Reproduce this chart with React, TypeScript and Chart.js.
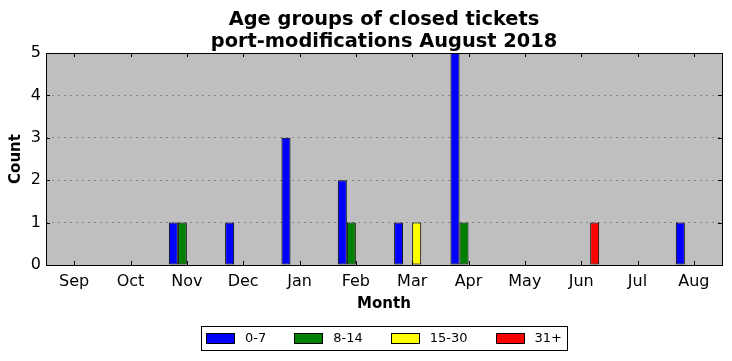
import React, { useEffect, useRef } from "react";
import { Chart, registerables } from "chart.js";

Chart.register(...registerables);

const FONT = "'DejaVu Sans', 'Liberation Sans', sans-serif";

const months = ["Sep", "Oct", "Nov", "Dec", "Jan", "Feb", "Mar", "Apr", "May", "Jun", "Jul", "Aug"];
const age0to7 = [0, 0, 1, 1, 3, 2, 1, 5, 0, 0, 0, 1];
const age8to14 = [0, 0, 1, 0, 0, 1, 0, 1, 0, 0, 0, 0];
const age15to30 = [0, 0, 0, 0, 0, 0, 1, 0, 0, 0, 0, 0];
const age31plus = [0, 0, 0, 0, 0, 0, 0, 0, 0, 1, 0, 0];
const seriesLabels = ["0-7", "8-14", "15-30", "31+"];
const seriesColors = ["#0000ff", "#008000", "#ffff00", "#ff0000"];
const yMin = 0;
const yMax = 5;
const titleLines = ["Age groups of closed tickets", "port-modifications August 2018"];
const xTitle = "Month";
const yTitle = "Count";

const decorPlugin = {
  id: "mplDecor",
  afterLayout(chart: any) {
    const tb = chart.titleBlock;
    if (tb) {
      tb.left = chart.chartArea.left;
      tb.right = chart.chartArea.right;
    }
  },
  beforeDraw(chart: any) {
    const { ctx, chartArea: a } = chart;
    ctx.save();
    ctx.fillStyle = "#ffffff";
    ctx.fillRect(0, 0, chart.width, chart.height);
    ctx.fillStyle = "#bfbfbf";
    ctx.fillRect(a.left, a.top, a.right - a.left, a.bottom - a.top);
    ctx.restore();
  },
  afterDatasetsDraw(chart: any) {
    const { ctx, chartArea: a } = chart;
    const xs = chart.scales.x;
    const ys = chart.scales.y;
    const tl = 4;
    ctx.save();
    ctx.strokeStyle = "#000";
    ctx.lineWidth = 1;
    ctx.beginPath();
    xs.ticks.forEach((_: any, i: number) => {
      const px = Math.round(xs.getPixelForTick(i)) + 0.5;
      ctx.moveTo(px, a.bottom);
      ctx.lineTo(px, a.bottom - tl);
      ctx.moveTo(px, a.top);
      ctx.lineTo(px, a.top + tl);
    });
    ys.ticks.forEach((t: any) => {
      const py = Math.round(ys.getPixelForValue(t.value)) + 0.5;
      ctx.moveTo(a.left, py);
      ctx.lineTo(a.left + tl, py);
      ctx.moveTo(a.right, py);
      ctx.lineTo(a.right - tl, py);
    });
    ctx.stroke();
    ctx.strokeRect(
      Math.round(a.left) + 0.5,
      Math.round(a.top) + 0.5,
      Math.round(a.right - a.left),
      Math.round(a.bottom - a.top)
    );
    ctx.restore();
  },
  afterDraw(chart: any) {
    const { ctx, chartArea: a } = chart;
    const ds = chart.data.datasets;
    const boxW = 28;
    const boxH = 10;
    const gapText = 11;
    const gapItem = 28;
    const pad = 5;
    ctx.save();
    ctx.font = `13px ${FONT}`;
    const widths = ds.map((d: any) => ctx.measureText(d.label).width);
    const total =
      pad * 2 +
      widths.reduce((s: number, w: number) => s + boxW + gapText + w, 0) +
      gapItem * (ds.length - 1);
    const cx = (a.left + a.right) / 2;
    const x0 = Math.round(cx - total / 2);
    const cy = chart.height - 23;
    ctx.strokeStyle = "#000";
    ctx.lineWidth = 1;
    ctx.fillStyle = "#fff";
    ctx.fillRect(x0 + 0.5, cy - 12 + 0.5, Math.round(total), 24);
    ctx.strokeRect(x0 + 0.5, cy - 12 + 0.5, Math.round(total), 24);
    let x = x0 + pad;
    ds.forEach((d: any, i: number) => {
      const bx = Math.round(x);
      ctx.fillStyle = d.backgroundColor;
      ctx.fillRect(bx + 0.5, cy - boxH / 2 + 0.5, boxW, boxH);
      ctx.strokeRect(bx + 0.5, cy - boxH / 2 + 0.5, boxW, boxH);
      ctx.fillStyle = "#000";
      ctx.textBaseline = "middle";
      ctx.textAlign = "left";
      ctx.fillText(d.label, x + boxW + gapText, cy + 1);
      x += boxW + gapText + widths[i] + gapItem;
    });
    ctx.restore();
  },
};

export default function App() {
  const ref = useRef<HTMLCanvasElement | null>(null);

  useEffect(() => {
    if (!ref.current) return;
    Chart.defaults.font.family = FONT;
    const seriesData = [age0to7, age8to14, age15to30, age31plus];
    const chart = new Chart(ref.current, {
      type: "bar",
      data: {
        labels: months,
        datasets: seriesData.map((values, i) => ({
          label: seriesLabels[i],
          data: values,
          backgroundColor: seriesColors[i],
          borderColor: "#000000",
          borderWidth: 1,
          borderSkipped: false,
          categoryPercentage: 0.64,
          barPercentage: 1.0,
        })),
      },
      options: {
        animation: false,
        responsive: true,
        maintainAspectRatio: false,
        layout: { padding: { left: 0, right: 10, top: 0, bottom: 45 } },
        plugins: {
          legend: { display: false },
          tooltip: { enabled: false },
          title: {
            display: true,
            text: titleLines,
            color: "#000",
            font: { size: 19.4, weight: "bold", family: FONT, lineHeight: "22px" },
            padding: { top: 9, bottom: 0 },
          },
        },
        scales: {
          x: {
            type: "category",
            offset: true,
            grid: { display: false, drawTicks: false },
            border: { display: false },
            ticks: {
              color: "#000",
              font: { size: 16, family: FONT },
              padding: 7,
              maxRotation: 0,
              autoSkip: false,
            },
            title: {
              display: true,
              text: xTitle,
              color: "#000",
              font: { size: 15, weight: "bold", family: FONT, lineHeight: 1.2 },
              padding: { top: 0, bottom: 3 },
            },
            afterFit: (s: any) => {
              s.height = 51;
            },
          },
          y: {
            min: yMin,
            max: yMax,
            ticks: {
              stepSize: 1,
              color: "#000",
              font: { size: 16, family: FONT },
              padding: 5,
            },
            grid: {
              drawTicks: false,
              lineWidth: 1,
              color: (c: any) =>
                c.tick && (c.tick.value === yMin || c.tick.value === yMax)
                  ? "rgba(0,0,0,0)"
                  : "rgba(0,0,0,0.3)",
            },
            border: { display: false, dash: [2, 4] },
            title: {
              display: true,
              text: yTitle,
              color: "#000",
              font: { size: 15, weight: "bold", family: FONT, lineHeight: 1.2 },
              padding: { top: 7, bottom: 0 },
            },
            afterFit: (s: any) => {
              s.width = 46;
            },
          },
        },
      },
      plugins: [decorPlugin],
    } as any);
    return () => chart.destroy();
  }, []);

  return (
    <div style={{ position: "absolute", left: 0, top: 0, width: 732, height: 361 }}>
      <canvas ref={ref} />
    </div>
  );
}
